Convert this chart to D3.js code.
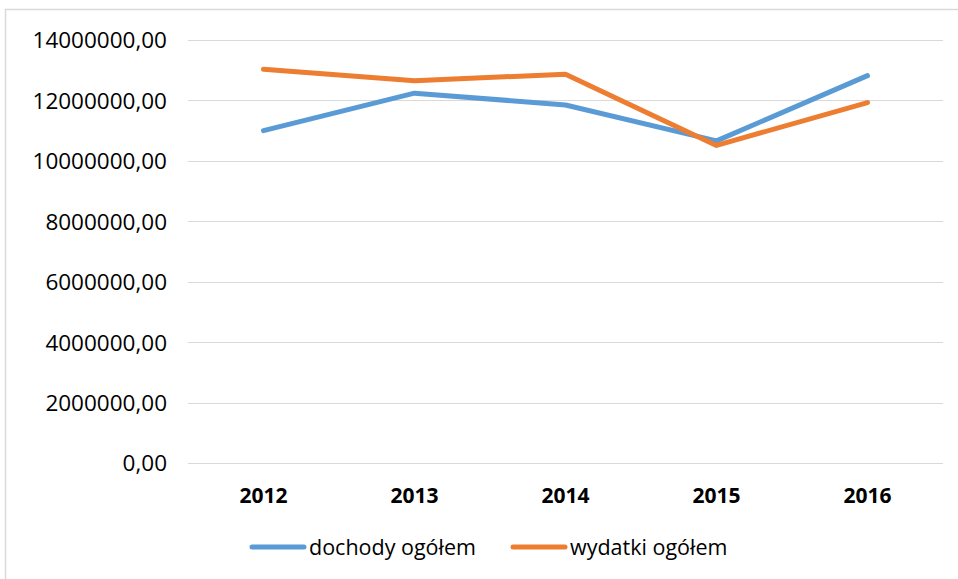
<!DOCTYPE html>
<html>
<head>
<meta charset="utf-8">
<script src="https://cdn.jsdelivr.net/npm/d3@7"></script>
<style>
  body { margin: 0; background: #fff; }
  svg { display: block; font-family: "Open Sans", sans-serif; }
</style>
</head>
<body>
<svg id="chart" width="958" height="579"></svg>
<script>
const years = ["2012", "2013", "2014", "2015", "2016"];
const dochody = [11000000, 12240000, 11850000, 10660000, 12820000];
const wydatki = [13030000, 12650000, 12870000, 10510000, 11930000];
const seriesNames = ["dochody ogółem", "wydatki ogółem"];
const seriesColors = ["#5B9BD5", "#ED7D31"];
const yTicks = [0, 2000000, 4000000, 6000000, 8000000, 10000000, 12000000, 14000000];

const svg = d3.select("#chart");
const width = 958, height = 579;
const margin = {top: 40, right: 15, bottom: 116, left: 188};

// frame of the chart area (cut off on right and bottom)
svg.append("rect")
  .attr("x", 5.5).attr("y", 9.5)
  .attr("width", 1000).attr("height", 1000)
  .attr("fill", "none")
  .attr("stroke", "#d9d9d9")
  .attr("stroke-width", 1.5);

const x = d3.scaleBand()
  .domain(years)
  .range([margin.left, width - margin.right]);

const y = d3.scaleLinear()
  .domain([0, 14000000])
  .range([height - margin.bottom, margin.top]);

const fmt = v => d3.format(".2f")(v).replace(".", ",");

// gridlines
svg.append("g")
  .selectAll("line")
  .data(yTicks)
  .enter().append("line")
    .attr("x1", margin.left)
    .attr("x2", width - margin.right)
    .attr("y1", d => Math.round(y(d)) + 0.5)
    .attr("y2", d => Math.round(y(d)) + 0.5)
    .attr("stroke", "#d9d9d9")
    .attr("stroke-width", 1);

// y axis labels
const yAxis = svg.append("g")
  .attr("transform", "translate(" + (margin.left - 21) + ",0)")
  .call(d3.axisLeft(y).tickValues(yTicks).tickFormat(fmt).tickSize(0).tickPadding(0));
yAxis.select(".domain").remove();
yAxis.selectAll("text")
  .attr("font-family", "Open Sans, sans-serif")
  .attr("font-size", 22.5)
  .attr("fill", "#000")
  .attr("dy", "0.35em");

// x axis labels
const xAxis = svg.append("g")
  .attr("transform", "translate(0," + (height - margin.bottom) + ")")
  .call(d3.axisBottom(x).tickSize(0).tickPadding(25));
xAxis.select(".domain").remove();
xAxis.selectAll("text")
  .attr("font-family", "Open Sans, sans-serif")
  .attr("font-size", 21)
  .attr("font-weight", "bold")
  .attr("fill", "#000");

// lines
const line = d3.line()
  .x((d, i) => x(years[i]) + x.bandwidth() / 2)
  .y(d => y(d));

[dochody, wydatki].forEach((s, k) => {
  svg.append("path")
    .datum(s)
    .attr("fill", "none")
    .attr("stroke", seriesColors[k])
    .attr("stroke-width", 5)
    .attr("stroke-linejoin", "round")
    .attr("stroke-linecap", "round")
    .attr("d", line);
});

// legend
const legendX = [252, 513];
const legend = svg.append("g")
  .selectAll("g")
  .data(seriesNames)
  .enter().append("g")
    .attr("transform", (d, i) => "translate(" + legendX[i] + ",547)");

legend.append("line")
  .attr("x1", 0).attr("x2", 52)
  .attr("stroke", (d, i) => seriesColors[i])
  .attr("stroke-width", 5)
  .attr("stroke-linecap", "round");

legend.append("text")
  .attr("x", 57)
  .attr("dy", "0.35em")
  .attr("font-size", 21.5)
  .attr("fill", "#000")
  .text(d => d);
</script>
</body>
</html>
